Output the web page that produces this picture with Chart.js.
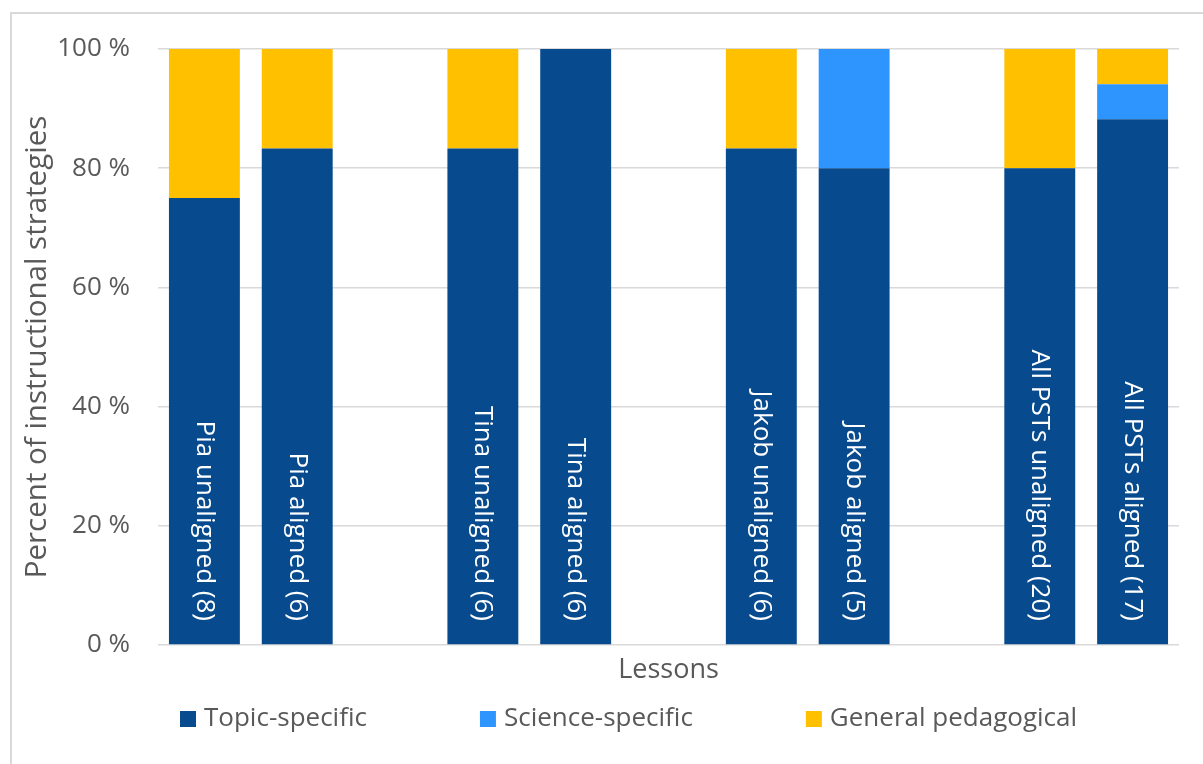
<!DOCTYPE html>
<html>
<head>
<meta charset="utf-8">
<script src="https://cdn.jsdelivr.net/npm/chart.js@4"></script>
<style>
html, body { margin: 0; padding: 0; background: #fff; overflow: hidden; }
#frame { position: absolute; left: 10px; top: 12px; width: 1400px; height: 1000px; border-top: 2px solid #d9d9d9; border-left: 2px solid #d9d9d9; }
#wrap { position: absolute; left: 0; top: 0; width: 1203px; height: 764px; }
</style>
</head>
<body>
<div id="frame"></div>
<div id="wrap"><canvas id="chart" width="1203" height="764"></canvas></div>
<script>
// lessons (empty strings are the gaps between the PSTs)
const lessons = ['Pia unaligned (8)', 'Pia aligned (6)', '', 'Tina unaligned (6)', 'Tina aligned (6)', '',
    'Jakob unaligned (6)', 'Jakob aligned (5)', '', 'All PSTs unaligned (20)', 'All PSTs aligned (17)'];
const topicSpecific = [75, 83.3, null, 83.3, 100, null, 83.3, 80, null, 80, 88.2];
const scienceSpecific = [0, 0, null, 0, 0, null, 0, 20, null, 0, 5.9];
const generalPedagogical = [25, 16.7, null, 16.7, 0, null, 16.7, 0, null, 20, 5.9];
const yTicks = [0, 20, 40, 60, 80, 100];

const textColor = '#595959';
const fontFamily = '"Open Sans", "Noto Sans", sans-serif';

// white rotated lesson names inside the bars
const barLabels = {
    id: 'barLabels',
    afterDatasetsDraw(chart) {
        const ctx = chart.ctx;
        const meta = chart.getDatasetMeta(0);
        const base = chart.scales.y.getPixelForValue(0);
        ctx.save();
        ctx.fillStyle = '#ffffff';
        ctx.font = '26px ' + fontFamily;
        ctx.textAlign = 'right';
        ctx.textBaseline = 'middle';
        meta.data.forEach((bar, i) => {
            if (!lessons[i]) return;
            ctx.save();
            ctx.translate(bar.x, base - 24);
            ctx.rotate(Math.PI / 2);
            ctx.fillText(lessons[i], 0, 0);
            ctx.restore();
        });
        ctx.restore();
    }
};

// legend row under the axis title, spaced like the original
const bottomLegend = {
    id: 'bottomLegend',
    afterDraw(chart) {
        const ctx = chart.ctx;
        let x = chart.chartArea.left + 22;
        const y = 719;
        ctx.save();
        ctx.font = '26px ' + fontFamily;
        ctx.textBaseline = 'middle';
        chart.data.datasets.forEach(ds => {
            ctx.fillStyle = ds.backgroundColor;
            ctx.fillRect(x, y - 8, 16, 16);
            ctx.fillStyle = textColor;
            ctx.fillText(ds.label, x + 24, y);
            x += 24 + ctx.measureText(ds.label).width + 113;
        });
        ctx.restore();
    }
};

const ctx = document.getElementById('chart').getContext('2d');
new Chart(ctx, {
    type: 'bar',
    data: {
        labels: lessons,
        datasets: [
            { label: 'Topic-specific', data: topicSpecific, backgroundColor: '#074B8E' },
            { label: 'Science-specific', data: scienceSpecific, backgroundColor: '#2E95FF' },
            { label: 'General pedagogical', data: generalPedagogical, backgroundColor: '#FFC000' }
        ]
    },
    options: {
        responsive: false,
        animation: false,
        layout: { padding: { left: 12, top: 49, right: 24, bottom: 0 } },
        datasets: {
            bar: { barPercentage: 1, categoryPercentage: 0.764, borderWidth: 0 }
        },
        plugins: {
            legend: { display: false },
            tooltip: { enabled: false }
        },
        scales: {
            x: {
                stacked: true,
                grid: { display: false },
                border: { display: false },
                ticks: { display: false },
                title: {
                    display: true,
                    text: 'Lessons',
                    color: textColor,
                    font: { family: fontFamily, size: 27 },
                    padding: { top: 0, bottom: 77 }
                },
                afterFit(scale) { scale.height = 119; }
            },
            y: {
                stacked: true,
                min: 0,
                max: 100,
                afterBuildTicks(scale) { scale.ticks = yTicks.map(v => ({ value: v })); },
                ticks: {
                    padding: 28,
                    color: textColor,
                    font: { family: fontFamily, size: 26 },
                    callback: v => v + ' %'
                },
                grid: { color: '#d9d9d9', lineWidth: 1.5, drawTicks: false },
                border: { display: false },
                title: {
                    display: true,
                    text: 'Percent of instructional strategies',
                    color: textColor,
                    font: { family: fontFamily, size: 29.5 },
                    padding: { top: 8, bottom: 0 }
                },
                afterFit(scale) { scale.width = 146; }
            }
        }
    },
    plugins: [barLabels, bottomLegend]
});
</script>
</body>
</html>
